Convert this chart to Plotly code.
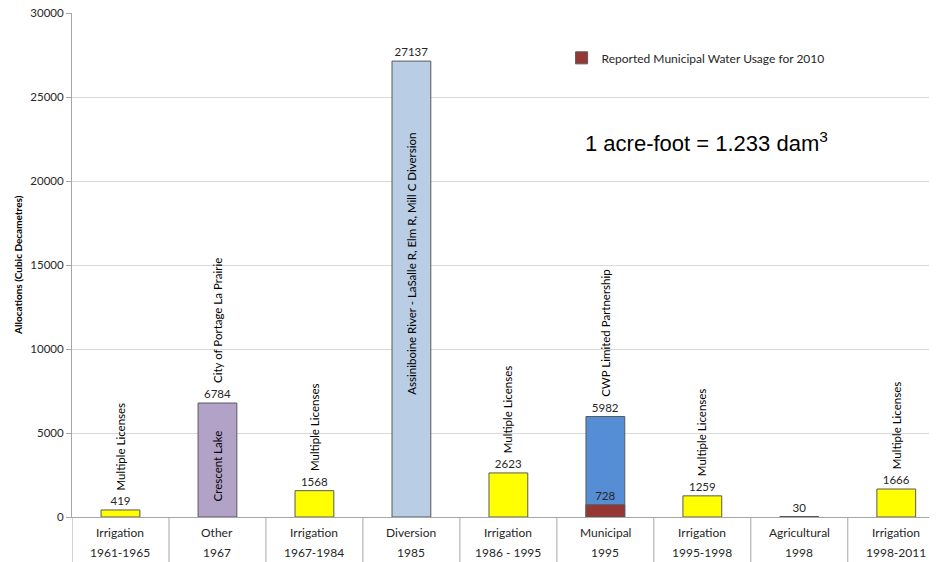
import plotly.graph_objects as go

types = ["Irrigation", "Other", "Irrigation", "Diversion", "Irrigation",
         "Municipal", "Irrigation", "Agricultural", "Irrigation"]
periods = ["1961-1965", "1967", "1967-1984", "1985", "1986 - 1995",
           "1995", "1995-1998", "1998", "1998-2011"]
allocations = [419, 6784, 1568, 27137, 2623, 5982, 1259, 30, 1666]
bar_colors = ["#FFFF00", "#B3A2C7", "#FFFF00", "#B9CDE5", "#FFFF00",
              "#558ED5", "#FFFF00", "#FFFFFF", "#FFFF00"]
above_labels = ["Multiple Licenses", "City of Portage La Prairie", "Multiple Licenses", "",
                "Multiple Licenses", "CWP Limited Partnership", "Multiple Licenses", "",
                "Multiple Licenses"]
inside_labels = ["", "Crescent Lake", "", "Assiniboine River - LaSalle R, Elm R, Mill C Diversion",
                 "", "", "", "", ""]
inside_label_y = [None, 3040, None, 15100, None, None, None, None, None]
municipal_2010 = [None, None, None, None, None, 728, None, None, None]
legend_name = "Reported Municipal Water Usage for 2010"
conversion_note = "1 acre-foot = 1.233 dam<sup>3</sup>"

FONT = "Lato"
x = [periods, types]

fig = go.Figure()
fig.add_trace(go.Bar(
    x=x, y=allocations, width=0.4,
    marker=dict(color=bar_colors, line=dict(color="#595959", width=1)),
    text=[str(v) for v in allocations], textposition="outside",
    textfont=dict(family=FONT, size=11.5, color="#262626"),
    cliponaxis=False, showlegend=False,
))
fig.add_trace(go.Bar(
    x=x, y=municipal_2010, width=0.4, name=legend_name,
    marker=dict(color="#953735", line=dict(color="#595959", width=1)),
    text=[("" if v is None else str(v)) for v in municipal_2010], textposition="outside",
    textfont=dict(family=FONT, size=11.5, color="#262626"),
    cliponaxis=False, showlegend=True,
))

annotations = []
shapes = []
for i, (lab, v) in enumerate(zip(above_labels, allocations)):
    if lab:
        annotations.append(dict(x=i, y=v, xref="x", yref="y", text=lab, textangle=-90,
                                showarrow=False, yanchor="bottom", xanchor="center", yshift=18,
                                font=dict(family=FONT, size=11.5, color="#000000")))
for i, (lab, yy) in enumerate(zip(inside_labels, inside_label_y)):
    if lab:
        annotations.append(dict(x=i, y=yy, xref="x", yref="y", text=lab, textangle=-90,
                                showarrow=False, yanchor="middle", xanchor="center",
                                font=dict(family=FONT, size=11.5, color="#000000")))
# two-level category labels under the axis, with group dividers
for i, (t, p) in enumerate(zip(types, periods)):
    annotations.append(dict(x=i, y=0, xref="x", yref="paper", text=t, showarrow=False,
                            xanchor="center", yanchor="middle", yshift=-15,
                            font=dict(family=FONT, size=12, color="#262626")))
    annotations.append(dict(x=i, y=0, xref="x", yref="paper", text=p, showarrow=False,
                            xanchor="center", yanchor="middle", yshift=-35,
                            font=dict(family=FONT, size=12, color="#262626")))
    shapes.append(dict(type="line", xref="x", yref="paper", x0=i - 0.5, x1=i - 0.5,
                       y0=0, y1=-0.1, line=dict(color="#A6A6A6", width=1)))

annotations.append(dict(x=0.733, y=0.745, xref="paper", yref="paper", text=conversion_note,
                        showarrow=False, xanchor="center", yanchor="middle",
                        font=dict(family="Liberation Sans", size=22, color="#000000")))
annotations.append(dict(x=-0.0625, y=0.5, xref="paper", yref="paper",
                        text="<b>Allocations (Cubic Decametres)</b>", textangle=-90,
                        showarrow=False, xanchor="center", yanchor="middle",
                        font=dict(family=FONT, size=10, color="#000000")))

fig.update_layout(
    width=929, height=554,
    margin=dict(l=64, r=0, t=5, b=45, autoexpand=False),
    paper_bgcolor="white", plot_bgcolor="white",
    barmode="overlay",
    font=dict(family=FONT, size=11, color="#262626"),
    annotations=annotations,
    shapes=shapes,
    legend=dict(x=0.566, y=0.911, xanchor="left", yanchor="middle",
                bgcolor="rgba(0,0,0,0)", font=dict(family=FONT, size=12, color="#262626")),
)
fig.update_yaxes(range=[0, 30000], dtick=5000, tickformat="d", showgrid=True, gridcolor="#D9D9D9",
                 showline=True, linecolor="#A6A6A6", ticks="outside", ticklen=5,
                 tickcolor="#A6A6A6", tickfont=dict(family=FONT, size=11.5, color="#262626"),
                 ticklabeloverflow="allow", zeroline=False, automargin=False)
fig.update_xaxes(range=[-0.5, 8.42], showline=True, linecolor="#A6A6A6",
                 showdividers=False, showticklabels=False, automargin=False, ticks="")

fig.write_html("out.html")
